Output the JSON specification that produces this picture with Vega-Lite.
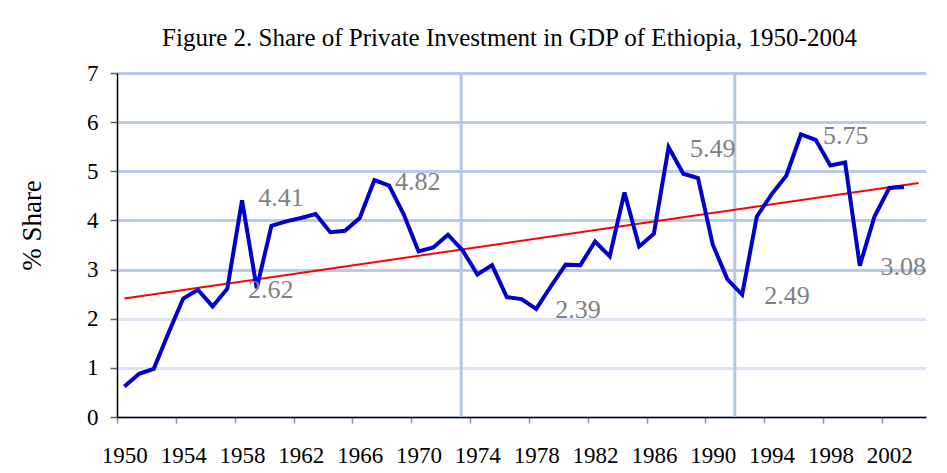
{
  "$schema": "https://vega.github.io/schema/vega-lite/v6.json",
  "autosize": {"type": "none"},
  "width": 809,
  "height": 344,
  "padding": {"left": 117, "top": 73, "right": 21, "bottom": 56},
  "background": "white",
  "config": {
    "view": {"stroke": null},
    "font": "Liberation Serif, Times New Roman, serif",
    "title": {"font": "Liberation Serif, Times New Roman, serif", "fontSize": 25, "fontWeight": "normal", "color": "#000000"}
  },
  "title": {"text": "Figure 2. Share of Private Investment in GDP of Ethiopia, 1950-2004", "anchor": "middle", "dx": -12, "offset": 11},
  "datasets": {
    "series": [
      {"year": 1950, "share": 0.62}, {"year": 1951, "share": 0.88}, {"year": 1952, "share": 0.98},
      {"year": 1953, "share": 1.71}, {"year": 1954, "share": 2.41}, {"year": 1955, "share": 2.59},
      {"year": 1956, "share": 2.25}, {"year": 1957, "share": 2.61}, {"year": 1958, "share": 4.41},
      {"year": 1959, "share": 2.62}, {"year": 1960, "share": 3.89}, {"year": 1961, "share": 3.98},
      {"year": 1962, "share": 4.05}, {"year": 1963, "share": 4.13}, {"year": 1964, "share": 3.76},
      {"year": 1965, "share": 3.79}, {"year": 1966, "share": 4.05}, {"year": 1967, "share": 4.82},
      {"year": 1968, "share": 4.71}, {"year": 1969, "share": 4.12}, {"year": 1970, "share": 3.37},
      {"year": 1971, "share": 3.45}, {"year": 1972, "share": 3.71}, {"year": 1973, "share": 3.39},
      {"year": 1974, "share": 2.90}, {"year": 1975, "share": 3.09}, {"year": 1976, "share": 2.44},
      {"year": 1977, "share": 2.40}, {"year": 1978, "share": 2.20}, {"year": 1979, "share": 2.66},
      {"year": 1980, "share": 3.10}, {"year": 1981, "share": 3.09}, {"year": 1982, "share": 3.57},
      {"year": 1983, "share": 3.27}, {"year": 1984, "share": 4.57}, {"year": 1985, "share": 3.47},
      {"year": 1986, "share": 3.73}, {"year": 1987, "share": 5.49}, {"year": 1988, "share": 4.95},
      {"year": 1989, "share": 4.86}, {"year": 1990, "share": 3.51}, {"year": 1991, "share": 2.80},
      {"year": 1992, "share": 2.49}, {"year": 1993, "share": 4.08}, {"year": 1994, "share": 4.53},
      {"year": 1995, "share": 4.91}, {"year": 1996, "share": 5.75}, {"year": 1997, "share": 5.64},
      {"year": 1998, "share": 5.12}, {"year": 1999, "share": 5.18}, {"year": 2000, "share": 3.08},
      {"year": 2001, "share": 4.08}, {"year": 2002, "share": 4.66}, {"year": 2003, "share": 4.68}
    ],
    "trend": [
      {"year": 1950, "share": 2.41},
      {"year": 2004, "share": 4.76}
    ],
    "markers": [
      {"year": 1972.9},
      {"year": 1991.5}
    ],
    "labels": [
      {"year": 1959.1, "share": 4.46, "label": "4.41"},
      {"year": 1958.4, "share": 2.58, "label": "2.62"},
      {"year": 1968.4, "share": 4.79, "label": "4.82"},
      {"year": 1979.3, "share": 2.18, "label": "2.39"},
      {"year": 1988.45, "share": 5.46, "label": "5.49"},
      {"year": 1993.5, "share": 2.47, "label": "2.49"},
      {"year": 1997.5, "share": 5.72, "label": "5.75"},
      {"year": 2001.4, "share": 3.06, "label": "3.08"}
    ]
  },
  "layer": [
    {
      "data": {"name": "markers"},
      "mark": {"type": "rule", "color": "#b4c7e7", "strokeWidth": 3},
      "encoding": {
        "x": {
          "field": "year", "type": "quantitative",
          "scale": {"domain": [1949.5, 2004.5], "nice": false, "zero": false},
          "axis": {
            "title": null,
            "grid": false,
            "values": [1949.5,1950.5,1951.5,1952.5,1953.5,1954.5,1955.5,1956.5,1957.5,1958.5,1959.5,1960.5,1961.5,1962.5,1963.5,1964.5,1965.5,1966.5,1967.5,1968.5,1969.5,1970.5,1971.5,1972.5,1973.5,1974.5,1975.5,1976.5,1977.5,1978.5,1979.5,1980.5,1981.5,1982.5,1983.5,1984.5,1985.5,1986.5,1987.5,1988.5,1989.5,1990.5,1991.5,1992.5,1993.5,1994.5,1995.5,1996.5,1997.5,1998.5,1999.5,2000.5,2001.5,2002.5,2003.5,2004.5],
            "labelExpr": "((datum.value + 0.5) % 4 == 2) ? toString(datum.value + 0.5) : ''",
            "labelOffset": 7.35,
            "labelOverlap": false,
            "labelBound": false,
            "labelFlush": false,
            "labelFont": "Liberation Serif, Times New Roman, serif",
            "labelFontSize": 23,
            "labelColor": "#000000",
            "labelPadding": 21,
            "tickSize": 6,
            "tickColor": "#909090",
            "tickWidth": 1.5,
            "domainColor": "#000000",
            "domainWidth": 1.5
          }
        },
        "y": {"datum": 0, "type": "quantitative", "scale": {"domain": [0, 7], "nice": false}},
        "y2": {"datum": 7}
      }
    },
    {
      "data": {"name": "trend"},
      "mark": {"type": "line", "color": "#ff0000", "strokeWidth": 2},
      "encoding": {
        "x": {"field": "year", "type": "quantitative"},
        "y": {"field": "share", "type": "quantitative"}
      }
    },
    {
      "data": {"name": "series"},
      "mark": {"type": "line", "color": "#0000cc", "strokeWidth": 4, "strokeJoin": "miter"},
      "encoding": {
        "x": {"field": "year", "type": "quantitative"},
        "y": {
          "field": "share", "type": "quantitative",
          "axis": {
            "title": "% Share",
            "titleFont": "Liberation Serif, Times New Roman, serif",
            "titleFontSize": 27,
            "titleFontWeight": "normal",
            "titleColor": "#000000",
            "titleX": -85,
            "titleY": 152,
            "titleAngle": -90,
            "titleAlign": "center",
            "titleBaseline": "middle",
            "values": [0, 1, 2, 3, 4, 5, 6, 7],
            "labelFont": "Liberation Serif, Times New Roman, serif",
            "labelFontSize": 23,
            "labelColor": "#000000",
            "labelPadding": 12,
            "tickSize": 7,
            "tickColor": "#606060",
            "tickWidth": 1.5,
            "domainColor": "#000000",
            "domainWidth": 1.5,
            "grid": true,
            "gridWidth": 3,
            "gridColor": {"condition": {"test": "datum.value <= 2", "value": "#dbe4f4"}, "value": "#b9cbea"}
          }
        }
      }
    },
    {
      "data": {"name": "labels"},
      "mark": {"type": "text", "align": "left", "baseline": "middle", "font": "Liberation Serif, Times New Roman, serif", "fontSize": 26, "color": "#808080"},
      "encoding": {
        "x": {"field": "year", "type": "quantitative"},
        "y": {"field": "share", "type": "quantitative"},
        "text": {"field": "label"}
      }
    }
  ]
}
